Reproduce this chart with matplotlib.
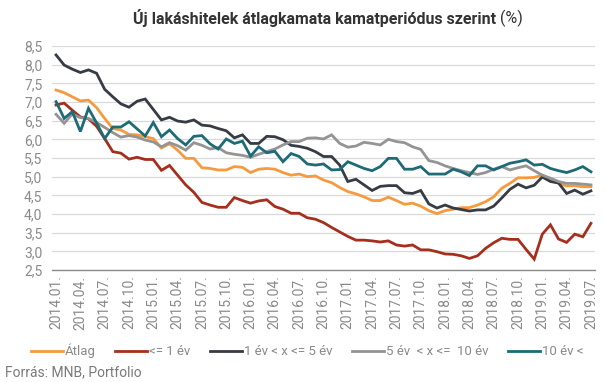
"""
Új lakáshitelek átlagkamata kamatperiódus szerint, 2014.01 - 2019.07.
Monthly series read off the MNB / Portfolio chart.
"""

import matplotlib
matplotlib.use("Agg")
import matplotlib.pyplot as plt
from matplotlib.ticker import FuncFormatter

plt.rcParams["font.family"] = ["Roboto", "DejaVu Sans"]

# 2014.01 ... 2019.07, one entry per month
months = [f"{y}.{m:02d}." for y in range(2014, 2020) for m in range(1, 13)][:67]

atlag = [7.32, 7.25, 7.14, 7.03, 7.05, 6.85, 6.56, 6.29, 6.25, 6.13, 6.12, 6.07,
         6.02, 5.77, 5.88, 5.71, 5.49, 5.49, 5.24, 5.22, 5.18, 5.18, 5.27, 5.25,
         5.11, 5.20, 5.22, 5.20, 5.11, 5.04, 5.07, 5.00, 5.02, 4.91, 4.84, 4.71,
         4.60, 4.54, 4.46, 4.36, 4.36, 4.45, 4.36, 4.26, 4.29, 4.21, 4.09, 4.01,
         4.09, 4.13, 4.17, 4.17, 4.24, 4.33, 4.46, 4.69, 4.82, 4.97, 4.97, 4.98,
         5.04, 4.93, 4.82, 4.75, 4.76, 4.73, 4.73]
le_1ev = [6.92, 6.97, 6.78, 6.60, 6.55, 6.35, 6.02, 5.67, 5.63, 5.47, 5.52, 5.46,
          5.46, 5.17, 5.30, 5.04, 4.78, 4.58, 4.31, 4.24, 4.18, 4.18, 4.44, 4.36,
          4.29, 4.35, 4.38, 4.20, 4.13, 4.02, 4.02, 3.90, 3.86, 3.77, 3.64, 3.52,
          3.40, 3.30, 3.30, 3.28, 3.25, 3.28, 3.17, 3.14, 3.17, 3.04, 3.04, 2.99,
          2.93, 2.92, 2.88, 2.81, 2.88, 3.08, 3.23, 3.35, 3.32, 3.32, 3.05, 2.79,
          3.46, 3.71, 3.33, 3.24, 3.46, 3.39, 3.75]
ev_1_5 = [8.26, 7.99, 7.88, 7.79, 7.86, 7.77, 7.34, 7.14, 6.95, 6.86, 7.02, 7.08,
          6.80, 6.52, 6.59, 6.49, 6.46, 6.52, 6.38, 6.36, 6.29, 6.23, 6.04, 6.12,
          5.89, 5.89, 6.08, 6.07, 5.99, 5.84, 5.81, 5.76, 5.67, 5.54, 5.54, 5.31,
          4.87, 4.93, 4.78, 4.63, 4.74, 4.76, 4.76, 4.57, 4.55, 4.63, 4.27, 4.16,
          4.24, 4.16, 4.12, 4.08, 4.11, 4.11, 4.21, 4.43, 4.66, 4.80, 4.70, 4.77,
          4.99, 4.87, 4.83, 4.55, 4.64, 4.53, 4.62]
ev_5_10 = [6.67, 6.43, 6.68, 6.58, 6.56, 6.45, 6.32, 6.18, 6.06, 6.10, 6.06, 5.98,
           5.93, 5.80, 5.91, 5.83, 5.71, 5.91, 5.84, 5.74, 5.78, 5.64, 5.60, 5.57,
           5.52, 5.60, 5.67, 5.74, 5.85, 5.94, 5.94, 6.03, 6.04, 6.01, 6.12, 5.89,
           5.79, 5.82, 5.92, 5.89, 5.85, 6.00, 5.94, 5.91, 5.80, 5.73, 5.43, 5.38,
           5.29, 5.22, 5.16, 5.11, 5.06, 5.11, 5.20, 5.27, 5.18, 5.24, 5.29, 5.16,
           5.04, 4.96, 4.87, 4.82, 4.82, 4.80, 4.78]
ev_10 = [7.01, 6.56, 6.74, 6.21, 6.83, 6.44, 6.02, 6.33, 6.33, 6.47, 6.28, 6.09,
         6.45, 6.07, 6.25, 6.02, 5.85, 6.08, 6.10, 5.88, 5.74, 6.01, 5.89, 5.95,
         5.55, 5.80, 5.64, 5.68, 5.40, 5.62, 5.54, 5.34, 5.31, 5.34, 5.18, 5.19,
         5.40, 5.31, 5.22, 5.16, 5.27, 5.49, 5.49, 5.20, 5.20, 5.27, 5.07, 5.07,
         5.07, 5.20, 5.13, 5.03, 5.29, 5.29, 5.18, 5.27, 5.36, 5.40, 5.45, 5.31,
         5.33, 5.22, 5.16, 5.11, 5.18, 5.27, 5.13]

series = [
    ("Átlag", atlag, "#f79a3e"),
    ("<= 1 év", le_1ev, "#a52e1d"),
    ("1 év < x <= 5 év", ev_1_5, "#363b44"),
    ("5 év  < x <=  10 év", ev_5_10, "#949494"),
    ("10 év <", ev_10, "#1c6b76"),
]

TXT = "#8a8a8a"

fig = plt.figure(figsize=(6.07, 3.82), dpi=100)
ax = fig.add_axes([52 / 607, 1 - 270 / 382, 543 / 607, 224 / 382])

x = list(range(len(months)))
handles = []
for label, vals, col in series:
    h, = ax.plot(x, vals, color=col, lw=2.0, solid_joinstyle="miter", label=label)
    handles.append(h)

ax.set_xlim(-0.5, len(months) - 0.5)
ax.set_ylim(2.5, 8.5)
ax.set_yticks([2.5 + 0.5 * k for k in range(13)])
ax.yaxis.set_major_formatter(FuncFormatter(lambda v, p: f"{v:.1f}".replace(".", ",")))
ax.set_xticks(x[::3])
ax.set_xticklabels(months[::3], rotation=90)
ax.tick_params(axis="both", length=0, labelsize=10, colors=TXT)
ax.tick_params(axis="y", pad=7)
ax.tick_params(axis="x", pad=4)

ax.grid(axis="y", color="#d9d9d9", lw=0.9)
ax.set_axisbelow(True)
for s in ("top", "right", "left"):
    ax.spines[s].set_visible(False)
ax.spines["bottom"].set_color("#8c8c8c")
ax.spines["bottom"].set_linewidth(1.0)

# title: bold text, regular "(%)"
t1 = fig.text(133 / 607, 1 - 18 / 382, "Új lakáshitelek átlagkamata kamatperiódus szerint ",
              fontsize=11.5, fontweight="bold", color="#333333", va="center", ha="left")
fig.canvas.draw()
bb = t1.get_window_extent()
fig.text(bb.x1 / fig.bbox.width, 1 - 18 / 382, "(%)", fontsize=11.5,
         color="#333333", va="center", ha="left")

fig.legend(handles=handles, labels=[s[0] for s in series], loc="center",
           bbox_to_anchor=(307 / 607, 1 - 351 / 382), ncol=5, frameon=False,
           fontsize=9.5, handlelength=2.4, handletextpad=0.15, columnspacing=1.5,
           labelcolor=TXT)

fig.text(5 / 607, 1 - 372 / 382, "Forrás: MNB, Portfolio", fontsize=10,
         color="#7a7a7a", va="center", ha="left")

fig.savefig("out.png", dpi=100)
